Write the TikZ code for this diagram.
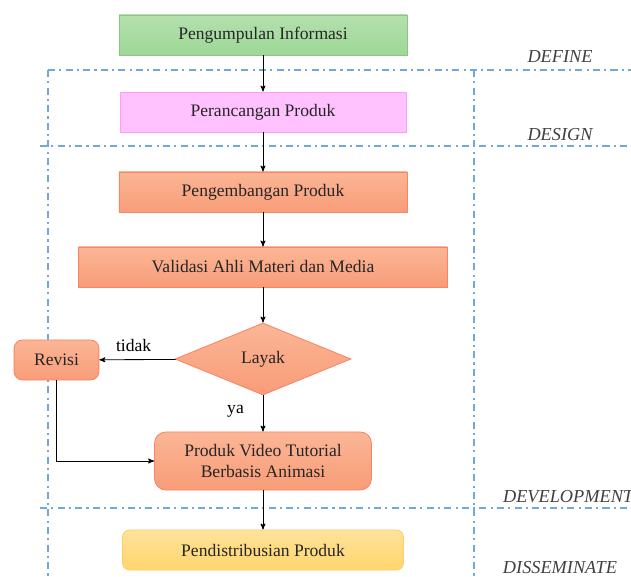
\documentclass[tikz,border=0pt]{standalone}
\usepackage{fontspec}
\setmainfont{Liberation Serif}
\usepackage{xcolor}
\usetikzlibrary{arrows,shapes.geometric}

\definecolor{hijau}{HTML}{9ED896}
\definecolor{hijauatas}{HTML}{B4E0AE}
\definecolor{pink}{HTML}{FFC2FF}
\definecolor{oranye}{HTML}{F89C78}
\definecolor{oranyeatas}{HTML}{FBB696}
\definecolor{kuning}{HTML}{FFD66E}
\definecolor{kuningatas}{HTML}{FFE29A}
\definecolor{biru}{HTML}{6FA8DC}

\begin{document}
\begin{tikzpicture}[->,>=stealth',x=0.025cm,y=-0.025cm,semithick,
  font=\fontsize{12.5}{15}\selectfont,
  kotak/.style={draw,rectangle,minimum height=1cm,align=center,text=black!85},
  hijaubox/.style={kotak,draw=hijau!90!black,top color=hijauatas,bottom color=hijau,minimum width=7.2cm},
  pinkbox/.style={kotak,draw=pink!80!magenta,fill=pink,minimum width=7.15cm},
  oranyebox/.style={kotak,draw=oranye!85!red,top color=oranyeatas,bottom color=oranye},
  kuningbox/.style={kotak,rounded corners=5pt,draw=kuning!90!orange,top color=kuningatas,bottom color=kuning,minimum width=7.02cm},
  tahap/.style={font=\fontsize{13}{15}\itshape\selectfont,text=black!75},
  batas/.style={-,draw=biru,line width=1.1pt,dash pattern=on 5pt off 3pt on 1.5pt off 3pt}]
  \useasboundingbox (0,0) rectangle (631,577);

  % garis batas tahap
  \draw [batas] (48,70) -- (631,70);
  \draw [batas] (40,146) -- (631,146);
  \draw [batas] (40,508) -- (631,508);
  \draw [batas] (48,70) -- (48,577);
  \draw [batas] (474,70) -- (474,577);

  \node [tahap] (define) at (560,57) {DEFINE};
  \node [tahap] (design) at (560,135) {DESIGN};
  \node [tahap,anchor=west] (develop) at (498,497) {DEVELOPMENT};
  \node [tahap] (dissem) at (560,568) {DISSEMINATE};

  \node [hijaubox] (info) at (263,35) {Pengumpulan Informasi};
  \node [pinkbox] (rancang) at (263,112) {Perancangan Produk};
  \node [oranyebox,minimum width=7.2cm] (kembang) at (263,192) {Pengembangan Produk};
  \node [oranyebox,minimum width=9.22cm] (validasi) at (263,267) {Validasi Ahli Materi dan Media};
  \node [oranyebox,diamond,minimum width=4.4cm,minimum height=1.8cm,inner sep=0pt] (layak) at (263,359) {Layak};
  \node [oranyebox,rounded corners=6pt,minimum width=2.12cm] (revisi) at (56.5,360) {Revisi};
  \node [oranyebox,rounded corners=8pt,minimum width=5.42cm,minimum height=1.45cm] (video) at (263,461) {Produk Video Tutorial\\Berbasis Animasi};
  \node [kuningbox] (distribusi) at (263,550) {Pendistribusian Produk};

  \path (info) edge (rancang);
  \path (rancang) edge (kembang);
  \path (kembang) edge (validasi);
  \path (validasi) edge (layak);
  \path (layak) edge node[above=2pt,pos=0.55] {tidak} (revisi);
  \path (layak) edge node[left=10pt,pos=0.45] {ya} (video);
  \draw (revisi) |- (video);
  \path (video) edge (distribusi);
\end{tikzpicture}
\end{document}
